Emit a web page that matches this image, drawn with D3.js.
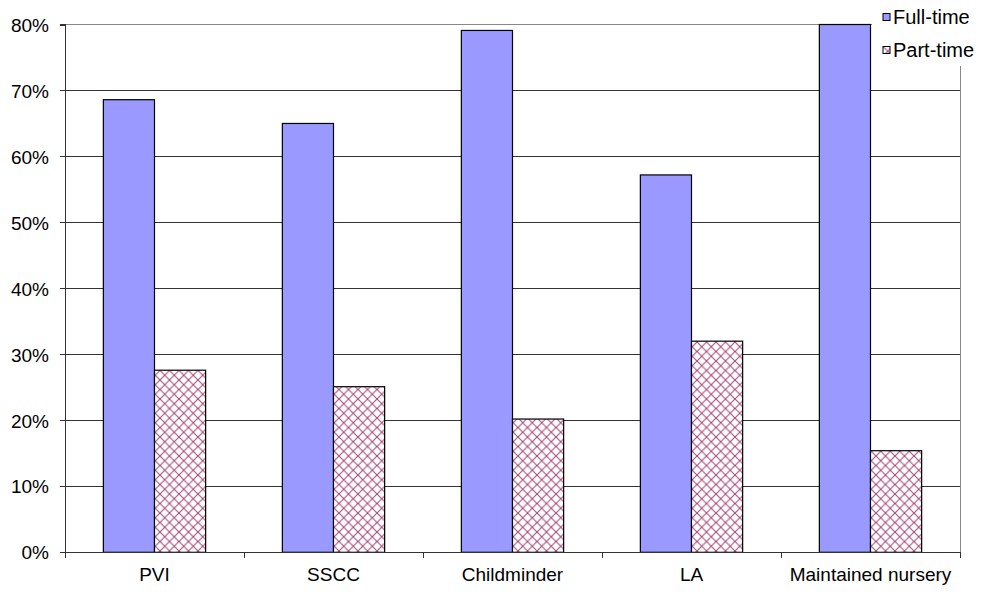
<!DOCTYPE html>
<html><head><meta charset="utf-8">
<script src="https://cdn.jsdelivr.net/npm/d3@7"></script>
<style>body{margin:0;background:#fff}svg{display:block}text{font-family:"Liberation Sans",Arial,sans-serif;fill:#000}</style>
</head><body>
<svg id="c" width="982" height="594"></svg>
<script>
const categories = ["PVI", "SSCC", "Childminder", "LA", "Maintained nursery"];
const seriesNames = ["Full-time", "Part-time"];
const fullTime = [0.686, 0.650, 0.791, 0.572, 0.800];
const partTime = [0.276, 0.251, 0.202, 0.320, 0.154];
const yTicks = [0, 0.1, 0.2, 0.3, 0.4, 0.5, 0.6, 0.7, 0.8];

const svg = d3.select("#c");
const L = 65, R = 960, T = 24.5, B = 552.3;
const fontSize = 19, legendFont = 20;

const defs = svg.append("defs");
const ps = 9.5;
const pat = defs.append("pattern").attr("id", "hatch").attr("patternUnits", "userSpaceOnUse")
  .attr("width", ps).attr("height", ps);
pat.append("rect").attr("width", ps).attr("height", ps).attr("fill", "#fff");
pat.append("path").attr("d", `M-1,-1 L${ps + 1},${ps + 1} M${ps + 1},-1 L-1,${ps + 1}`)
  .attr("stroke", "#a44c7a").attr("stroke-width", 1.1);

const x = d3.scaleBand().domain(categories).range([L, R]).padding(0);
const x1 = d3.scaleBand().domain(seriesNames).range([0, x.bandwidth()]).paddingInner(0).paddingOuter(0.75);
const y = d3.scaleLinear().domain([0, 0.8]).range([B, T]);

// gridlines
svg.append("g").selectAll("line").data(yTicks.filter(d => d > 0)).join("line")
  .attr("x1", L).attr("x2", R).attr("y1", d => y(d)).attr("y2", d => y(d))
  .attr("stroke", d => d === 0.8 ? "#888" : "#333").attr("stroke-width", 1).attr("shape-rendering", "crispEdges");
// right border
svg.append("line").attr("x1", R).attr("x2", R).attr("y1", T).attr("y2", B)
  .attr("stroke", "#888").attr("shape-rendering", "crispEdges");

// bars
const data = categories.map((c, i) => ({c, vals: [
  {s: "Full-time", v: fullTime[i]}, {s: "Part-time", v: partTime[i]}]}));
const g = svg.append("g").selectAll("g").data(data).join("g")
  .attr("transform", d => `translate(${x(d.c)},0)`);
g.selectAll("rect").data(d => d.vals).join("rect")
  .attr("x", d => x1(d.s)).attr("width", x1.bandwidth())
  .attr("y", d => y(d.v)).attr("height", d => y(0) - y(d.v))
  .attr("fill", d => d.s === "Full-time" ? "#9999ff" : "url(#hatch)")
  .attr("stroke", "#000").attr("stroke-width", 1.2);

// y axis
const yAxis = d3.axisLeft(y).tickValues(yTicks).tickFormat(d3.format(".0%")).tickSize(5).tickPadding(11);
const ya = svg.append("g").attr("transform", `translate(${L},0)`).call(yAxis);
ya.selectAll("path,line").attr("stroke", "#333").attr("shape-rendering", "crispEdges");
ya.select(".domain").attr("d", `M-5,${T}H0V${B}`);
ya.selectAll("text").attr("font-size", fontSize).attr("font-family", "Liberation Sans, Arial, sans-serif").attr("dy", "0.35em");

// x axis
const xa = svg.append("g").attr("transform", `translate(0,${B})`).call(d3.axisBottom(x).tickSize(0).tickPadding(15));
xa.select(".domain").attr("d", `M${L},0H${R}`).attr("stroke", "#333").attr("shape-rendering", "crispEdges");
xa.selectAll("text").attr("font-size", fontSize).attr("font-family", "Liberation Sans, Arial, sans-serif");
const bounds = categories.map(c => x(c)).concat([x(categories[categories.length - 1]) + x.bandwidth()]);
xa.selectAll("line.b").data(bounds).join("line").attr("class", "b")
  .attr("x1", d => d).attr("x2", d => d).attr("y1", 0).attr("y2", 6)
  .attr("stroke", "#333").attr("shape-rendering", "crispEdges");

// legend
const lg = svg.append("g");
lg.append("rect").attr("x", 872).attr("y", 0).attr("width", 110).attr("height", 66).attr("fill", "#fff");
const items = lg.selectAll("g").data(seriesNames).join("g")
  .attr("transform", (d, i) => `translate(883,${13.5 + i * 33})`);
items.append("rect").attr("width", 7).attr("height", 7)
  .attr("fill", d => d === "Full-time" ? "#9999ff" : "url(#hatch)").attr("stroke", "#000");
items.append("text").attr("x", 10).attr("y", 3.5).attr("dy", "0.35em")
  .attr("font-size", legendFont).text(d => d);
</script>
</body></html>
